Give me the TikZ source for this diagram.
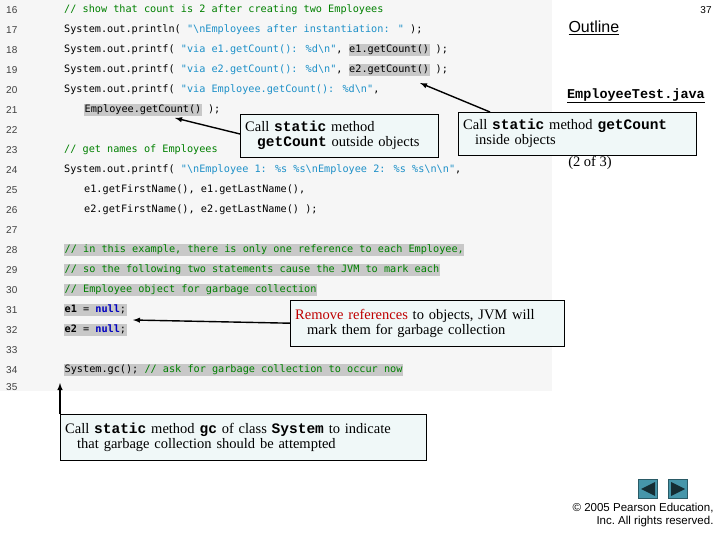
\documentclass[tikz,border=0pt]{standalone}
\usepackage{fontspec}
\setmainfont{Liberation Serif}
\newfontfamily\codef{DejaVu Sans Mono}
\newfontfamily\lmono{Liberation Mono}
\newfontfamily\arial{Liberation Sans}
\definecolor{cmt}{RGB}{0,128,0}
\definecolor{str}{RGB}{30,144,200}
\definecolor{hlg}{RGB}{200,200,200}
\definecolor{kw}{RGB}{0,0,192}
\definecolor{panel}{RGB}{246,246,246}
\definecolor{callbg}{RGB}{240,248,248}
\definecolor{navc}{RGB}{70,150,170}
\newcommand{\hlx}[1]{{\setlength{\fboxsep}{0.5pt}\colorbox{hlg}{\strut #1}}}
\newcommand{\cm}[1]{\textcolor{cmt}{#1}}
\newcommand{\st}[1]{\textcolor{str}{#1}}
\newcommand{\nl}{\textbf{\textcolor{kw}{null}}}
\begin{document}
\begin{tikzpicture}[x=1pt,y=-1pt,
 ln/.style={anchor=west,font=\arial\fontsize{10}{11}\selectfont,text=black!75,inner sep=0},
 code/.style={anchor=west,font=\codef\fontsize{10.2}{11}\selectfont,inner sep=0},
 callout/.style={draw=black,fill=callbg,align=left,font=\fontsize{14.5}{16}\selectfont,inner xsep=5pt,inner ysep=3pt,anchor=north west},
 arr/.style={-latex,line width=1.4pt}]
\useasboundingbox (0,0) rectangle (720,540);
\fill[panel] (0,0) rectangle (552,391);
\foreach \n/\y in {16/10,17/30,18/50,19/70,20/90,21/110,22/130,23/150,24/170,25/190,26/210,27/230,28/250,29/270,30/290,31/310,32/330,33/350,34/370,35/387}
 \node[ln] (l\n) at (6,\y) {\n};
\node[code] (c16) at (64,10) {\cm{// show that count is 2 after creating two Employees}};
\node[code] (c17) at (64,30) {System.out.println( \st{"\textbackslash nEmployees after instantiation: "} );};
\node[code] (c18) at (64,50) {System.out.printf( \st{"via e1.getCount(): \%d\textbackslash n"}, \hlx{e1.getCount()} );};
\node[code] (c19) at (64,70) {System.out.printf( \st{"via e2.getCount(): \%d\textbackslash n"}, \hlx{e2.getCount()} );};
\node[code] (c20) at (64,90) {System.out.printf( \st{"via Employee.getCount(): \%d\textbackslash n"},};
\node[code] (c21) at (84,110) {\hlx{Employee.getCount()} );};
\node[code] (c23) at (64,150) {\cm{// get names of Employees}};
\node[code] (c24) at (64,170) {System.out.printf( \st{"\textbackslash nEmployee 1: \%s \%s\textbackslash nEmployee 2: \%s \%s\textbackslash n\textbackslash n"},};
\node[code] (c25) at (84,190) {e1.getFirstName(), e1.getLastName(),};
\node[code] (c26) at (84,210) {e2.getFirstName(), e2.getLastName() );};
\node[code] (c28) at (64,250) {\hlx{\cm{// in this example, there is only one reference to each Employee,}}};
\node[code] (c29) at (64,270) {\hlx{\cm{// so the following two statements cause the JVM to mark each}}};
\node[code] (c30) at (64,290) {\hlx{\cm{// Employee object for garbage collection}}};
\node[code] (c31) at (64,310) {\hlx{\textbf{e1} = \nl;}};
\node[code] (c32) at (64,330) {\hlx{\textbf{e2} = \nl;}};
\node[code] (c34) at (64,370) {\hlx{System.gc(); \cm{// ask for garbage collection to occur now}}};

\node[anchor=west,font=\arial\fontsize{16}{18}\selectfont] (outl) at (565,28) {\underline{Outline}};
\node[font=\arial\fontsize{10}{11}\selectfont] (pg) at (706,10) {37};
\node[font=\lmono\bfseries\fontsize{13.5}{15}\selectfont] (fn) at (636,96) {\underline{EmployeeTest.java}};
\node[font=\fontsize{14.5}{16}\selectfont] (of) at (590,163) {(2 of 3)};

\node[callout,text width=188pt,minimum height=43pt] (b1) at (240,114)
 {Call {\lmono\bfseries static} method\\[-1pt]\hspace*{12pt}{\lmono\bfseries getCount} outside objects};
\node[callout,text width=228pt,minimum height=43pt] (b2) at (458,112)
 {Call {\lmono\bfseries static} method {\lmono\bfseries getCount}\\[-1pt]\hspace*{12pt}inside objects};
\node[callout,text width=264pt,minimum height=46pt] (b3) at (290,300)
 {\textcolor{red!75!black}{Remove references} to objects, JVM will\\[-1pt]\hspace*{12pt}mark them for garbage collection};
\node[callout,text width=356pt,minimum height=46pt] (b4) at (60,414)
 {Call {\lmono\bfseries static} method {\lmono\bfseries gc} of class {\lmono\bfseries System} to indicate\\[-1pt]\hspace*{12pt}that garbage collection should be attempted};

\coordinate (t1) at (175,118);
\coordinate (t2) at (420,83);
\coordinate (t3) at (133,320);
\coordinate (t4) at (60,383);
\coordinate (s1) at (240,134);
\coordinate (s2) at (490,112);
\draw[arr] (s1) -- (t1);
\draw[arr] (s2) -- (t2);
\draw[arr] (b3.west) -- (t3);
\draw[arr] (b4.north west) -- (t4);

\node[fill=navc,draw=navc!60!black,minimum size=19pt,inner sep=0] (nb1) at (648,489) {};
\node[fill=navc,draw=navc!60!black,minimum size=19pt,inner sep=0] (nb2) at (678,489) {};
\fill[navc!30!black] (641,489) -- (655,482) -- (655,496) -- cycle;
\fill[navc!30!black] (685,489) -- (671,482) -- (671,496) -- cycle;
\node[align=right,anchor=east,font=\arial\fontsize{11.5}{13.5}\selectfont] (cp) at (717,515) {© 2005 Pearson Education,\\Inc.\ All rights reserved.};
\end{tikzpicture}
\end{document}
